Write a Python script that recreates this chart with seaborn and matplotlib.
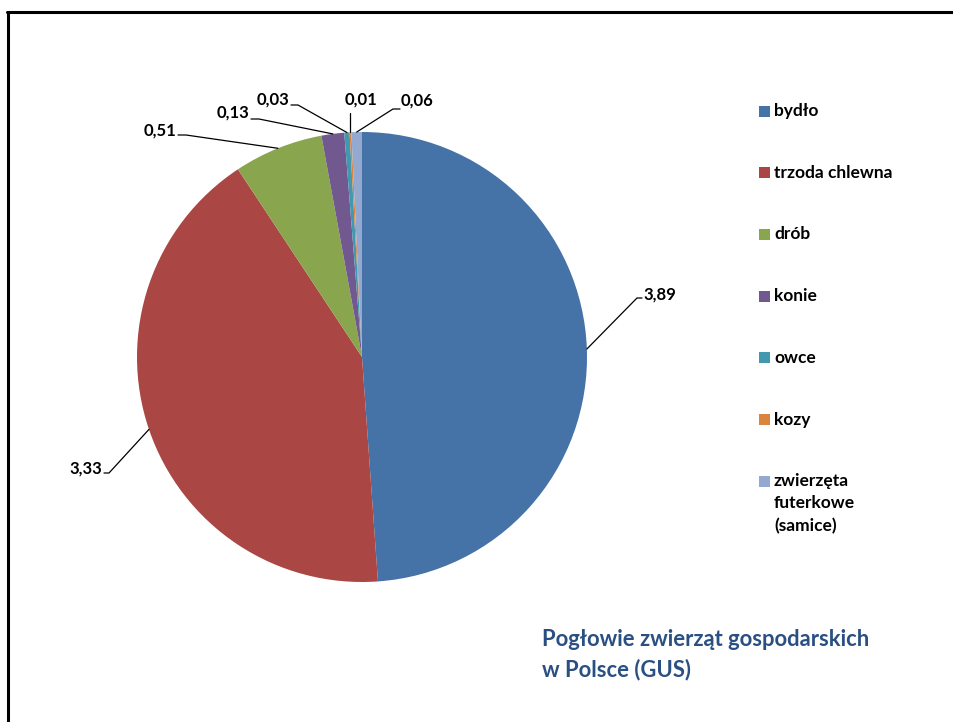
import matplotlib.pyplot as plt
import numpy as np
import seaborn as sns
from matplotlib.lines import Line2D
from matplotlib.patches import Rectangle

CATEGORIES = ["bydło", "trzoda chlewna", "drób", "konie", "owce", "kozy",
              "zwierzęta\nfuterkowe\n(samice)"]
VALUES = [3.89, 3.33, 0.51, 0.13, 0.03, 0.01, 0.06]
COLORS = ["#4572A7", "#AA4643", "#89A54E", "#71588F", "#4198AF", "#DB843D", "#93A9CF"]
TITLE = "Pogłowie zwierząt gospodarskich\nw Polsce (GUS)"

W, H = 954, 722
CX, CY, R = 362, 357, 225  # pie centre / radius in pixels

# label layout in pixels: (text x, text y, ha, elbow x, elbow y)
LABEL_POS = [
    (643, 295, "left", 637, 298),
    (102, 469, "right", 109, 473),
    (176, 131, "right", 186, 135),
    (249, 113, "right", 259, 119),
    (289, 100, "right", 298, 105),
    (361, 100, "center", None, 113),
    (401, 101, "left", 393, 109),
]

sns.set_theme(style="white")
plt.rcParams["font.family"] = ["Lato", "DejaVu Sans"]
plt.rcParams["font.weight"] = "bold"


def fig_xy(x, y):
    return x / W, 1 - y / H


def data_xy(x, y):
    return (x - CX) / R, (CY - y) / R


fig = plt.figure(figsize=(W / 100, H / 100), dpi=100)
fig.patch.set_facecolor("white")

ax = fig.add_axes([(CX - R) / W, (H - CY - R) / H, 2 * R / W, 2 * R / H])
wedges, _ = ax.pie(VALUES, colors=COLORS, startangle=90, counterclock=False,
                   wedgeprops=dict(linewidth=0))
ax.set_xlim(-1, 1)
ax.set_ylim(-1, 1)
ax.set_aspect("equal")
ax.axis("off")

# data labels with leader lines
for w, val, (tx, ty, ha, ex, ey) in zip(wedges, VALUES, LABEL_POS):
    mid = np.deg2rad((w.theta1 + w.theta2) / 2)
    px, py = np.cos(mid), np.sin(mid)
    if ex is None:
        xs, ys = [px, px], [py, data_xy(0, ey)[1]]
    else:
        exd, eyd = data_xy(ex, ey)
        if ha == "left":
            endx = data_xy(tx - 1, ey)[0]
        else:
            endx = data_xy(tx + 2, ey)[0]
        xs, ys = [px, exd, endx], [py, eyd, eyd]
    ax.plot(xs, ys, color="black", lw=0.9, clip_on=False)
    lx, ly = data_xy(tx, ty)
    ax.text(lx, ly, f"{val:.2f}".replace(".", ","), ha=ha, va="center",
            fontsize=12, fontweight="bold", color="black", clip_on=False)

# legend drawn by hand so the marker sits on the first line of each label
for i, (label, color) in enumerate(zip(CATEGORIES, COLORS)):
    ly = 111 + i * 61.7
    x0, y0 = fig_xy(759, ly + 5.5)
    fig.patches.append(Rectangle((x0, y0), 11 / W, 11 / H, transform=fig.transFigure,
                                 facecolor=color, edgecolor="none"))
    tx, ty = fig_xy(774, ly - 8)
    fig.text(tx, ty, label, ha="left", va="top", fontsize=12.5, fontweight="bold",
             color="black", linespacing=1.48)

# title block, bottom right
tx, ty = fig_xy(542, 629)
fig.text(tx, ty, TITLE, ha="left", va="top", fontsize=15.8, fontweight="bold",
         color="#2A4F82", linespacing=1.5)

# frame lines (left and top)
fig.add_artist(Line2D([8 / W, 8 / W], [0, 1 - 12 / H], transform=fig.transFigure,
                      color="black", lw=2.2))
fig.add_artist(Line2D([7 / W, 1], [1 - 12 / H, 1 - 12 / H], transform=fig.transFigure,
                      color="black", lw=2.2))

fig.savefig("out.png", dpi=100, facecolor="white")
